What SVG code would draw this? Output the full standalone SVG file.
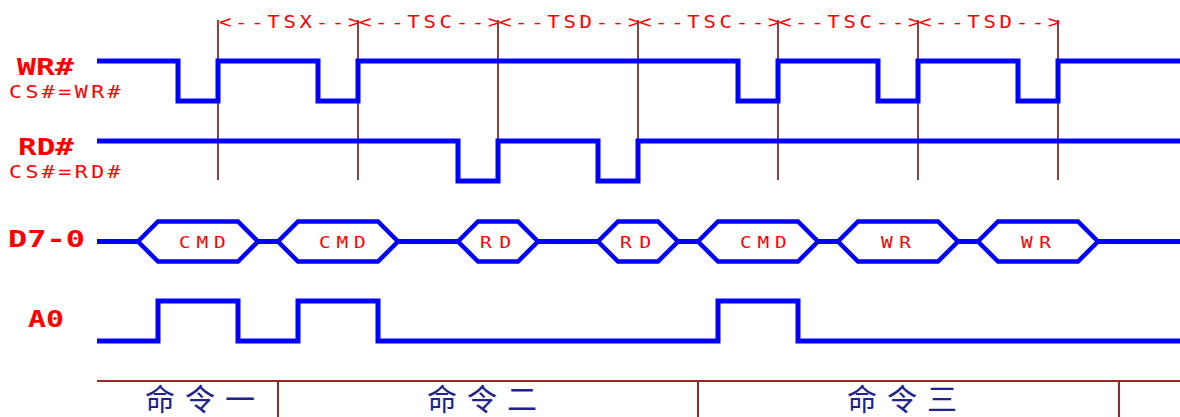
<svg xmlns="http://www.w3.org/2000/svg" width="1180" height="417" viewBox="0 0 1180 417">
<style>
.sig{fill:none;stroke:#0000ff;stroke-width:5;stroke-linejoin:miter;stroke-linecap:butt}
.hex{fill:none;stroke:#0000ff;stroke-width:4.5;stroke-linejoin:miter}
.mark{stroke:#7a1010;stroke-width:1.6}
.frame{stroke:#962a2a;stroke-width:2;fill:none}
.big{font-family:"DejaVu Sans Mono","Liberation Mono",monospace;font-weight:bold;font-size:23px;fill:#ff0000}
.small{font-family:"DejaVu Sans Mono","Liberation Mono",monospace;font-size:18px;fill:#ff0000}
.seg{font-family:"DejaVu Sans Mono","Liberation Mono",monospace;font-size:18px;fill:#ff0000}
.bus{font-family:"DejaVu Sans Mono","Liberation Mono",monospace;font-size:15px;fill:#ff0000}
.cjk{font-family:"Noto Sans CJK SC","Noto Sans CJK JP",sans-serif;font-size:30px;fill:#22228a;letter-spacing:10px}
</style>
<rect width="1180" height="417" fill="#ffffff"/>

<g id="markers">
<line class="mark" x1="218" y1="20" x2="218" y2="180"/>
<line class="mark" x1="358" y1="20" x2="358" y2="180"/>
<line class="mark" x1="498" y1="20" x2="498" y2="180"/>
<line class="mark" x1="638" y1="20" x2="638" y2="180"/>
<line class="mark" x1="778" y1="20" x2="778" y2="180"/>
<line class="mark" x1="918" y1="20" x2="918" y2="180"/>
<line class="mark" x1="1058" y1="20" x2="1058" y2="180"/>
</g>

<g id="timing-labels">
<text class="seg" transform="translate(219,28) scale(1.15,1)" textLength="123" lengthAdjust="spacing">&lt;--TSX--&gt;</text>
<text class="seg" transform="translate(359,28) scale(1.15,1)" textLength="123" lengthAdjust="spacing">&lt;--TSC--&gt;</text>
<text class="seg" transform="translate(499,28) scale(1.15,1)" textLength="123" lengthAdjust="spacing">&lt;--TSD--&gt;</text>
<text class="seg" transform="translate(639,28) scale(1.15,1)" textLength="123" lengthAdjust="spacing">&lt;--TSC--&gt;</text>
<text class="seg" transform="translate(779,28) scale(1.15,1)" textLength="123" lengthAdjust="spacing">&lt;--TSC--&gt;</text>
<text class="seg" transform="translate(919,28) scale(1.15,1)" textLength="123" lengthAdjust="spacing">&lt;--TSD--&gt;</text>
</g>

<g id="wr">
<text class="big" x="17" y="75" textLength="57" lengthAdjust="spacingAndGlyphs">WR#</text>
<text class="small" transform="translate(9,98) scale(1.2,1)" textLength="93" lengthAdjust="spacing">CS#=WR#</text>
<path class="sig" d="M97,61 H178 V101 H218 V61 H318 V101 H358 V61 H738 V101 H778 V61 H878 V101 H918 V61 H1018 V101 H1058 V61 H1180"/>
</g>

<g id="rd">
<text class="big" x="18" y="155" textLength="56" lengthAdjust="spacingAndGlyphs">RD#</text>
<text class="small" transform="translate(9,178) scale(1.2,1)" textLength="93" lengthAdjust="spacing">CS#=RD#</text>
<path class="sig" d="M97,141 H458 V181 H498 V141 H598 V181 H638 V141 H1180"/>
</g>

<g id="data">
<text class="big" x="8" y="247" textLength="77" lengthAdjust="spacingAndGlyphs">D7-0</text>
<path class="sig" d="M97,241.5 H138 M258,241.5 H278 M398,241.5 H458 M538,241.5 H598 M678,241.5 H698 M818,241.5 H838 M958,241.5 H978 M1098,241.5 H1180"/>
<polygon class="hex" points="138,241.5 158,221.5 238,221.5 258,241.5 238,261.5 158,261.5"/>
<polygon class="hex" points="278,241.5 298,221.5 378,221.5 398,241.5 378,261.5 298,261.5"/>
<polygon class="hex" points="458,241.5 478,221.5 518,221.5 538,241.5 518,261.5 478,261.5"/>
<polygon class="hex" points="598,241.5 618,221.5 658,221.5 678,241.5 658,261.5 618,261.5"/>
<polygon class="hex" points="698,241.5 718,221.5 798,221.5 818,241.5 798,261.5 718,261.5"/>
<polygon class="hex" points="838,241.5 858,221.5 938,221.5 958,241.5 938,261.5 858,261.5"/>
<polygon class="hex" points="978,241.5 998,221.5 1078,221.5 1098,241.5 1078,261.5 998,261.5"/>
<text class="bus" transform="translate(179,248) scale(1.3,1)" textLength="36" lengthAdjust="spacing">CMD</text>
<text class="bus" transform="translate(319,248) scale(1.3,1)" textLength="36" lengthAdjust="spacing">CMD</text>
<text class="bus" transform="translate(480,248) scale(1.3,1)" textLength="24" lengthAdjust="spacing">RD</text>
<text class="bus" transform="translate(620,248) scale(1.3,1)" textLength="24" lengthAdjust="spacing">RD</text>
<text class="bus" transform="translate(740,248) scale(1.3,1)" textLength="36" lengthAdjust="spacing">CMD</text>
<text class="bus" transform="translate(881,248) scale(1.3,1)" textLength="23" lengthAdjust="spacing">WR</text>
<text class="bus" transform="translate(1021,248) scale(1.3,1)" textLength="23" lengthAdjust="spacing">WR</text>
</g>

<g id="a0">
<text class="big" x="28" y="327" textLength="36" lengthAdjust="spacingAndGlyphs">A0</text>
<path class="sig" d="M97,341 H158 V301 H238 V341 H298 V301 H378 V341 H718 V301 H798 V341 H1180"/>
</g>

<g id="commands">
<path class="frame" d="M97,381 H1180 M278,381 V417 M698,381 V417 M1119,381 V417"/>
<text class="cjk" x="145" y="410">命令一</text>
<text class="cjk" x="427" y="410">命令二</text>
<text class="cjk" x="847" y="410">命令三</text>
</g>
</svg>
